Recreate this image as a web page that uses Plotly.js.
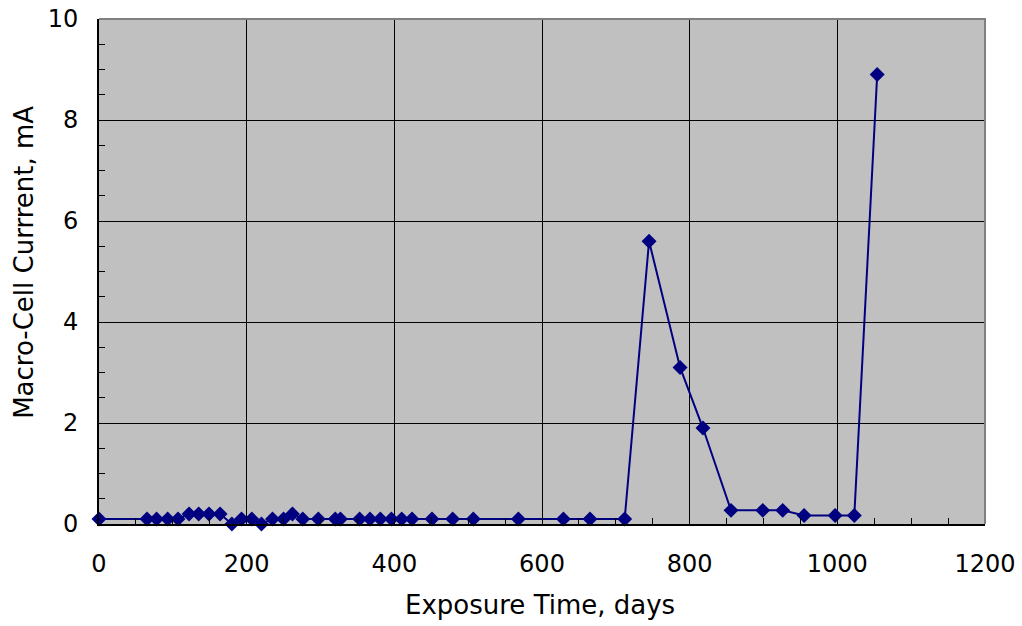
<!DOCTYPE html>
<html>
<head>
<meta charset="utf-8">
<script src="https://cdn.plot.ly/plotly-3.0.1.min.js"></script>
<style>
  html, body { margin: 0; padding: 0; background: #ffffff; }
  #chart { width: 1022px; height: 626px; }
</style>
</head>
<body>
<div id="chart"></div>
<script>
// Macro-cell current readings over the exposure period
const exposureDays = [
  0, 65, 78, 93, 107, 122, 135, 149, 164, 180,
  193, 207, 220, 235, 250, 262, 276, 297, 320, 327,
  353, 367, 381, 396, 410, 424, 451, 479, 507, 568,
  629, 665, 712, 745, 787, 818, 856, 899, 926, 955,
  997, 1023, 1054
];
const currentMA = [
  0.1, 0.1, 0.1, 0.1, 0.1, 0.2, 0.2, 0.2, 0.2, 0.0,
  0.1, 0.1, 0.0, 0.1, 0.1, 0.2, 0.1, 0.1, 0.1, 0.1,
  0.1, 0.1, 0.1, 0.1, 0.1, 0.1, 0.1, 0.1, 0.1, 0.1,
  0.1, 0.1, 0.1, 5.6, 3.1, 1.9, 0.27, 0.27, 0.27, 0.17,
  0.17, 0.17, 8.9
];
const xTicks = [0, 200, 400, 600, 800, 1000, 1200];
const yTicks = [0, 2, 4, 6, 8, 10];

const FONT = 'DejaVu Sans, Verdana, sans-serif';
const NAVY = '#000080';

const trace = {
  x: exposureDays,
  y: currentMA,
  type: 'scatter',
  mode: 'lines+markers',
  line: { color: NAVY, width: 2 },
  marker: { symbol: 'diamond', size: 11.5, color: NAVY },
  cliponaxis: false,
  hoverinfo: 'x+y'
};

const layout = {
  width: 1022,
  height: 626,
  margin: { l: 99, r: 37, t: 19, b: 102, pad: 0 },
  paper_bgcolor: '#ffffff',
  plot_bgcolor: '#c0c0c0',
  showlegend: false,
  font: { family: FONT, size: 24, color: '#000000' },
  xaxis: {
    range: [0, 1200],
    tickvals: xTicks,
    ticktext: xTicks.map(String),
    showgrid: true,
    gridcolor: '#000000',
    gridwidth: 1,
    zeroline: false,
    showline: true,
    linecolor: '#000000',
    linewidth: 2,
    ticks: 'inside',
    ticklen: 6,
    tickcolor: '#000000',
    ticklabelstandoff: 17,
    tickfont: { family: FONT, size: 24, color: '#000000' },
    minor: { dtick: 50, ticks: 'inside', ticklen: 6, tickcolor: '#000000', showgrid: false },
    fixedrange: true
  },
  yaxis: {
    range: [0, 10],
    tickvals: yTicks,
    ticktext: yTicks.map(String),
    showgrid: true,
    gridcolor: '#000000',
    gridwidth: 1,
    zeroline: false,
    showline: true,
    linecolor: '#000000',
    linewidth: 2,
    ticks: 'inside',
    ticklen: 6,
    tickcolor: '#000000',
    ticklabelstandoff: 14,
    tickfont: { family: FONT, size: 24, color: '#000000' },
    minor: { dtick: 0.5, ticks: 'inside', ticklen: 6, tickcolor: '#000000', showgrid: false },
    fixedrange: true
  },
  shapes: [
    {
      // grey frame along the top and right of the plotting area
      type: 'path',
      xref: 'paper', yref: 'paper',
      path: 'M 0 1 L 1 1 L 1 0',
      line: { color: '#808080', width: 2 },
      layer: 'above'
    }
  ],
  annotations: [
    {
      text: 'Exposure Time, days',
      xref: 'paper', yref: 'paper',
      x: 0.4977, y: -0.1604,
      xanchor: 'center', yanchor: 'middle',
      showarrow: false,
      font: { family: FONT, size: 26, color: '#000000' }
    },
    {
      text: 'Macro-Cell Currrent, mA',
      xref: 'paper', yref: 'paper',
      x: -0.0847, y: 0.519,
      xanchor: 'center', yanchor: 'middle',
      textangle: -90,
      showarrow: false,
      font: { family: FONT, size: 26, color: '#000000' }
    }
  ]
};

Plotly.newPlot('chart', [trace], layout, { displayModeBar: false, staticPlot: true });
</script>
</body>
</html>
